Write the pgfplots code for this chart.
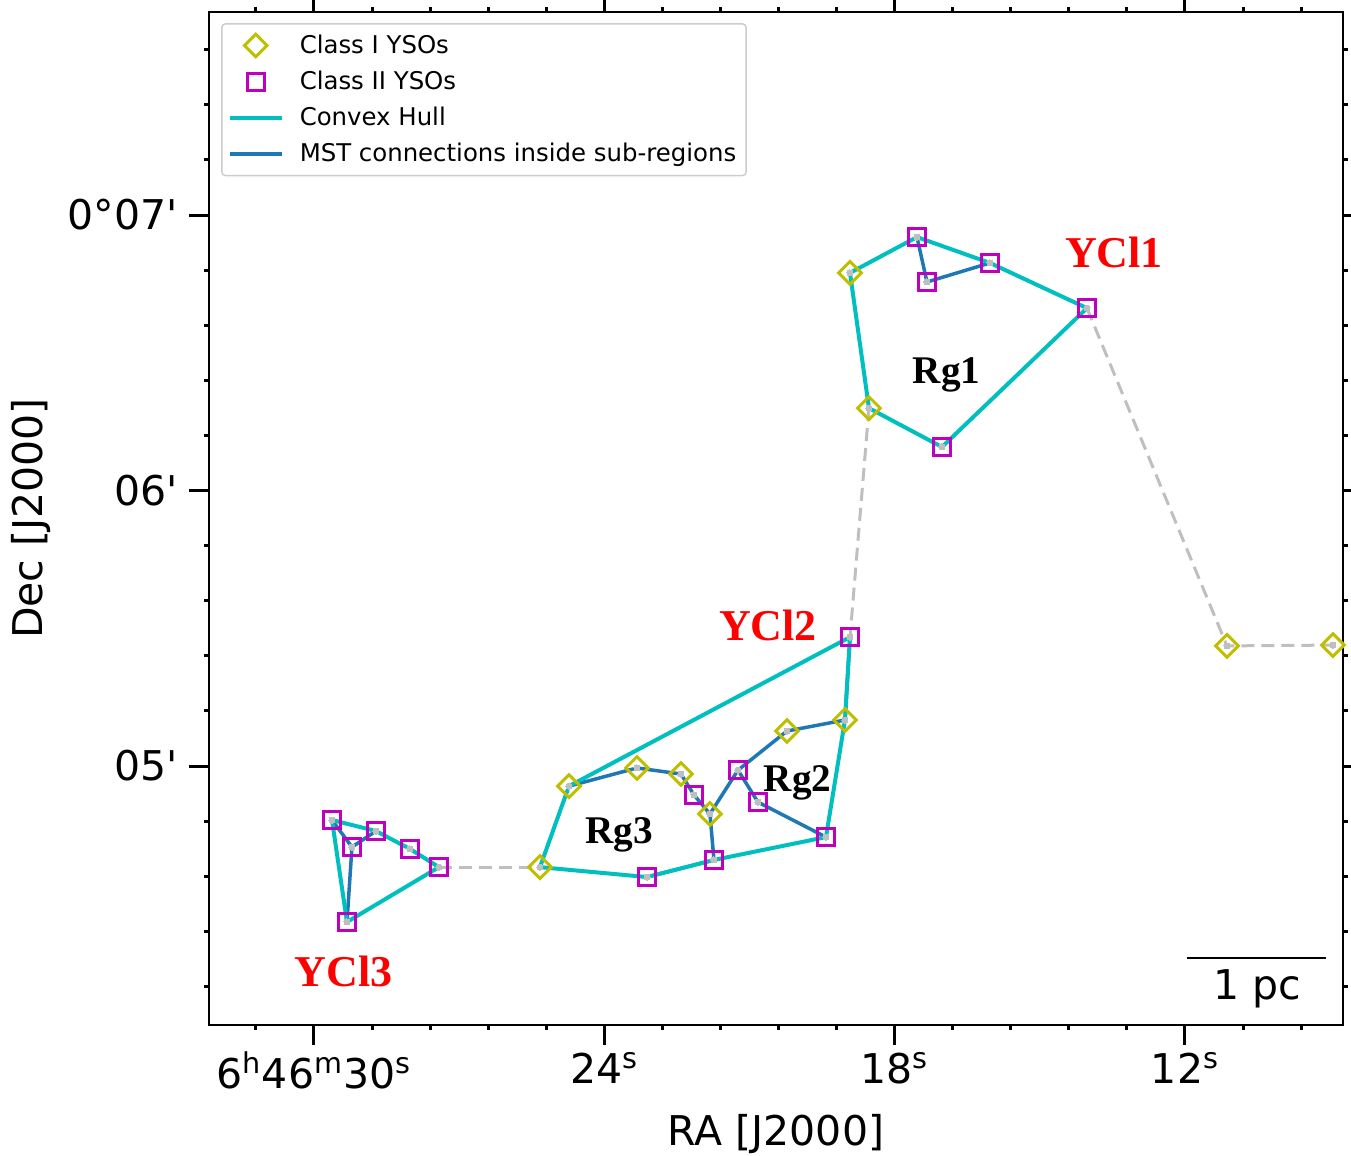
\documentclass[border=0pt]{standalone}
\usepackage{fontspec}
\setmainfont{DejaVu Sans}
\newfontfamily\tnr{Liberation Serif}
\usepackage{pgfplots}
\pgfplotsset{compat=1.18}
\definecolor{cI}{rgb}{0.75,0.75,0}
\definecolor{cII}{rgb}{0.75,0,0.75}
\definecolor{cHull}{rgb}{0,0.75,0.75}
\definecolor{cMST}{HTML}{1F77B4}
\definecolor{cGray}{rgb}{0.75,0.75,0.75}
\begin{document}
\begin{tikzpicture}
\useasboundingbox (-104.5pt,-65.5pt) rectangle (571pt,512.5pt);
\begin{axis}[
  at={(0pt,0pt)}, anchor=south west,
  width=567pt, height=506.5pt, scale only axis,
  x dir=reverse,
  xmin=8.735, xmax=32.170, ymin=4.060, ymax=7.737,
  axis line style={line width=1pt},
  tick align=outside, tick pos=both,
  xticklabel pos=lower, yticklabel pos=left,
  xtick={30,24,18,12},
  xticklabels={6\textsuperscript{h}46\textsuperscript{m}30\textsuperscript{s},24\textsuperscript{s},18\textsuperscript{s},12\textsuperscript{s}},
  minor xtick={31.2,28.8,27.6,26.4,25.2,22.8,21.6,20.4,19.2,16.8,15.6,14.4,13.2,10.8,9.6},
  ytick={5,6,7},
  yticklabels={05\textquotesingle,06\textquotesingle,0°07\textquotesingle},
  minor ytick={4.2,4.4,4.6,4.8,5.2,5.4,5.6,5.8,6.2,6.4,6.6,6.8,7.2,7.4,7.6},
  major tick length=10pt, minor tick length=2.5pt,
  major tick style={line width=1.5pt, black},
  minor tick style={line width=1.5pt, black},
  tick label style={font=\fontsize{20.5}{24}\selectfont},
  yticklabel style={xshift=-2pt},
  xlabel={RA [J2000]}, ylabel={Dec [J2000]},
  label style={font=\fontsize{20.5}{24}\selectfont},
  xlabel style={at={(axis description cs:0.5,-0.1185)}, anchor=base},
  ylabel style={at={(axis description cs:-0.1464,0.5)}, anchor=base},
  legend style={at={(axis description cs:0.0106,0.9891)}, anchor=north west,
    draw=black!20, line width=0.75pt, rounded corners=2pt, fill=white,
    font=\fontsize{12.2}{14}\selectfont, inner xsep=3pt, inner ysep=3.5pt,
    row sep=3.3pt, column sep=6pt},
  legend cell align=left,
  legend image code/.code={\draw[mark repeat=2,mark phase=2,#1] plot coordinates {(0pt,0pt) (13pt,0pt) (26pt,0pt)};},
]
\addlegendimage{only marks, mark=square, mark size=4pt, mark options={rotate=45, draw=cI, line width=1.5pt, fill=none}}
\addlegendentry{Class I YSOs}
\addlegendimage{only marks, mark=square, mark size=4.2pt, mark options={draw=cII, line width=1.5pt, fill=none}}
\addlegendentry{Class II YSOs}
\addlegendimage{cHull, line width=2pt, no markers}
\addlegendentry{Convex Hull}
\addlegendimage{cMST, line width=2pt, no markers}
\addlegendentry{MST connections inside sub-regions}

% MST connections inside sub-regions
\addplot[cMST, line width=1.75pt, no markers, forget plot] coordinates {(17.539,6.920) (17.332,6.757) (16.030,6.826)};
\addplot[cMST, line width=1.75pt, no markers, forget plot] coordinates {(24.730,4.927) (23.325,4.993) (22.416,4.971) (22.147,4.895) (21.817,4.826) (21.734,4.659) (23.118,4.597)};
\addplot[cMST, line width=1.75pt, no markers, forget plot] coordinates {(21.817,4.826) (21.238,4.985) (20.225,5.127) (19.027,5.167) (18.923,5.468)};
\addplot[cMST, line width=1.75pt, no markers, forget plot] coordinates {(21.238,4.985) (20.825,4.869) (19.419,4.742)};
\addplot[cMST, line width=1.75pt, no markers, forget plot] coordinates {(29.628,4.804) (29.215,4.706) (28.719,4.764)};
\addplot[cMST, line width=1.75pt, no markers, forget plot] coordinates {(29.215,4.706) (29.318,4.434)};

% Convex hulls
\addplot[cHull, line width=2pt, no markers, forget plot] coordinates {(18.923,6.790) (17.539,6.920) (16.030,6.826) (14.026,6.662) (17.022,6.158) (18.531,6.299) (18.923,6.790)};
\addplot[cHull, line width=2pt, no markers, forget plot] coordinates {(24.730,4.927) (18.923,5.468) (19.027,5.167) (19.419,4.742) (21.734,4.659) (23.118,4.597) (25.330,4.633) (24.730,4.927)};
\addplot[cHull, line width=2pt, no markers, forget plot] coordinates {(29.628,4.804) (28.719,4.764) (28.016,4.699) (27.417,4.633) (29.318,4.434) (29.628,4.804)};

% MST links between clusters
\addplot[cGray, line width=1.5pt, dash pattern=on 6.5pt off 3.5pt, no markers, forget plot] coordinates {(18.531,6.299) (18.923,5.468)};
\addplot[cGray, line width=1.5pt, dash pattern=on 6.5pt off 3.5pt, no markers, forget plot] coordinates {(14.026,6.662) (11.132,5.436) (8.942,5.439)};
\addplot[cGray, line width=1.5pt, dash pattern=on 6.5pt off 3.5pt, no markers, forget plot] coordinates {(27.417,4.633) (25.330,4.633)};

% Class I
\addplot[only marks, mark=square, mark size=4pt, mark options={rotate=45, draw=cI, line width=1.5pt, fill=none}, forget plot] coordinates {
(18.923,6.790) (18.531,6.299) (11.132,5.436) (8.942,5.439) (19.027,5.167) (20.225,5.127)
(24.730,4.927) (23.325,4.993) (22.416,4.971) (21.817,4.826) (25.330,4.633)};
% Class II
\addplot[only marks, mark=square, mark size=4.2pt, mark options={draw=cII, line width=1.5pt, fill=none}, forget plot] coordinates {
(17.539,6.920) (17.332,6.757) (16.030,6.826) (14.026,6.662) (17.022,6.158) (18.923,5.468)
(21.238,4.985) (20.825,4.869) (22.147,4.895) (19.419,4.742) (21.734,4.659) (23.118,4.597)
(29.628,4.804) (28.719,4.764) (29.215,4.706) (28.016,4.699) (27.417,4.633) (29.318,4.434)};
% node dots
\addplot[cGray, only marks, mark=*, mark size=1.5pt, mark options={draw=cGray, fill=cGray, line width=0pt}, forget plot] coordinates {
(18.923,6.790) (18.531,6.299) (11.132,5.436) (8.942,5.439) (19.027,5.167) (20.225,5.127)
(24.730,4.927) (23.325,4.993) (22.416,4.971) (21.817,4.826) (25.330,4.633)
(17.539,6.920) (17.332,6.757) (16.030,6.826) (14.026,6.662) (17.022,6.158) (18.923,5.468)
(21.238,4.985) (20.825,4.869) (22.147,4.895) (19.419,4.742) (21.734,4.659) (23.118,4.597)
(29.628,4.804) (28.719,4.764) (29.215,4.706) (28.016,4.699) (27.417,4.633) (29.318,4.434)};

\node[font=\tnr\bfseries\fontsize{22}{26}\selectfont, text=red, anchor=base] at (axis cs:13.468,6.811) {YCl1};
\node[font=\tnr\bfseries\fontsize{22}{26}\selectfont, text=red, anchor=base] at (axis cs:20.618,5.454) {YCl2};
\node[font=\tnr\bfseries\fontsize{22}{26}\selectfont, text=red, anchor=base] at (axis cs:29.390,4.198) {YCl3};
\node[font=\tnr\bfseries\fontsize{19.6}{23}\selectfont, anchor=base] at (axis cs:16.929,6.390) {Rg1};
\node[font=\tnr\bfseries\fontsize{19.6}{23}\selectfont, anchor=base] at (axis cs:20.008,4.906) {Rg2};
\node[font=\tnr\bfseries\fontsize{19.6}{23}\selectfont, anchor=base] at (axis cs:23.697,4.7205) {Rg3};

\draw[line width=1pt] (axis cs:11.959,4.303) -- (axis cs:9.087,4.303);
\node[font=\fontsize{20.5}{24}\selectfont, anchor=base] at (axis cs:10.513,4.151) {1 pc};
\end{axis}
\end{tikzpicture}
\end{document}
